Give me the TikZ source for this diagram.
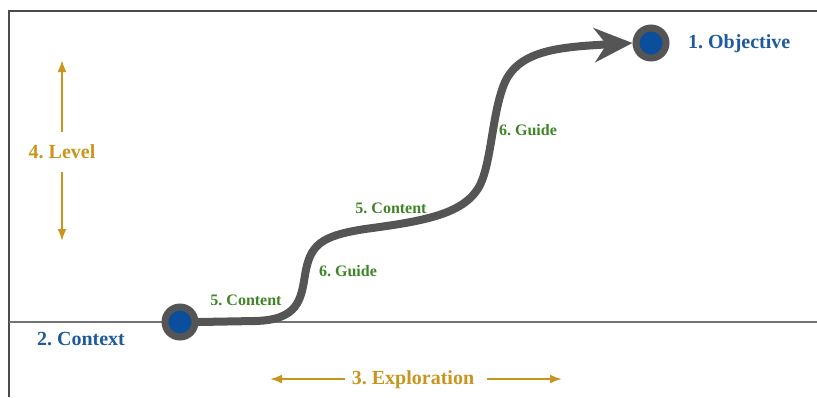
\documentclass[tikz,border=0pt]{standalone}
\usepackage{fontspec}
\setmainfont{Liberation Serif}
\usetikzlibrary{arrows.meta}
\definecolor{hubblue}{HTML}{0B4F9C}
\definecolor{textblue}{HTML}{1F5A9C}
\definecolor{trackgray}{HTML}{555555}
\definecolor{axisgold}{HTML}{C8961E}
\definecolor{stepgreen}{HTML}{3F8526}
\frenchspacing
\begin{document}
\begin{tikzpicture}[x=0.5pt, y=-0.5pt,
		hub node/.style={circle,fill=hubblue,draw=trackgray,line width=3.5pt,minimum size=15pt,inner sep=0pt},
		name label/.style={text=textblue,font=\bfseries\fontsize{10}{12}\selectfont},
		step label/.style={text=stepgreen,font=\bfseries\fontsize{8}{10}\selectfont},
		axis label/.style={text=axisgold,font=\bfseries\fontsize{10}{12}\selectfont},
		axis arrow/.style={draw=axisgold,line width=1pt,-{Latex[length=6pt,width=4.5pt]}},
		track/.style={draw=trackgray,line width=4pt,line cap=round,-{Stealth[length=19pt,width=17pt,inset=6pt]}}]
		
		\useasboundingbox (0,0) rectangle (817,397);
		
		% frame and base line
		\draw[black!70,line width=0.8pt] (9,397) -- (9,11) -- (817,11);
		\draw[black!55,line width=0.8pt] (9,322) -- (817,322);
		
		\node[hub node] (ctx) at (180,322) {};
		\node[hub node] (obj) at (651,43) {};
		\node[name label,anchor=west] (objtext) at (681,44) {1. Objective};
		\node[name label] (ctxtext) at (81,339) {2. Context};
		
		% the path of the learner
		\draw[track] (ctx.east) -- (255,321)
			.. controls (298,320) and (301,300) .. (305,275)
			.. controls (310,245) and (320,236) .. (365,229)
			.. controls (425,221) and (465,214) .. (480,185)
			.. controls (492,160) and (492,112) .. (505,82)
			.. controls (520,50) and (560,47) .. (obj.west);
		
		\node[step label] (c1) at (246,300) {5. Content};
		\node[step label] (g1) at (348,271) {6. Guide};
		\node[step label] (c2) at (391,208) {5. Content};
		\node[step label] (g2) at (528,130) {6. Guide};
		
		% axes
		\node[axis label] (level) at (62,152) {4. Level};
		\coordinate (levtop) at (62,60);
		\coordinate (levbot) at (62,241);
		\draw[axis arrow] (level.north) ++(0,-6) -- (levtop);
		\draw[axis arrow] (level.south) ++(0,6) -- (levbot);
		
		\node[axis label] (explore) at (413,380) {3. Exploration};
		\coordinate (expleft) at (270,379);
		\coordinate (expright) at (562,379);
		\draw[axis arrow] (345,379) -- (expleft);
		\draw[axis arrow] (487,379) -- (expright);
		
	\end{tikzpicture}
\end{document}
